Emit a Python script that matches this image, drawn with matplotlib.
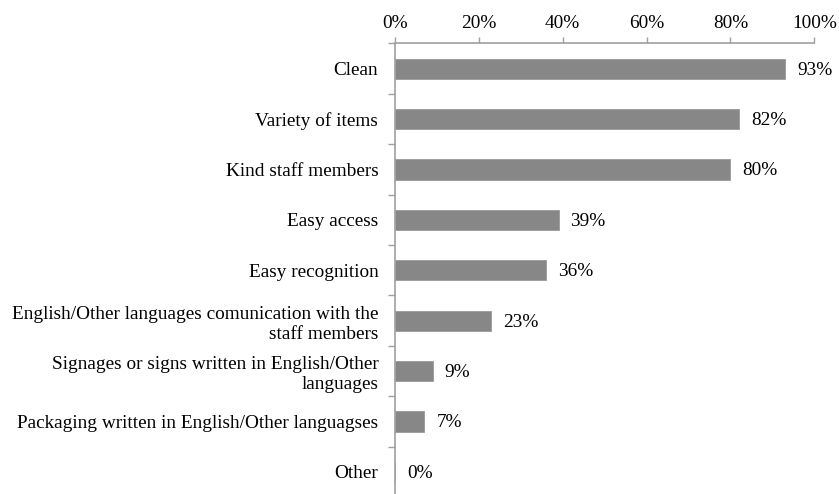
import numpy as np
import matplotlib.pyplot as plt
from matplotlib.ticker import FixedLocator, PercentFormatter

plt.rcParams['font.family'] = ['Liberation Serif', 'DejaVu Serif']

categories = [
    "Clean",
    "Variety of items",
    "Kind staff members",
    "Easy access",
    "Easy recognition",
    "English/Other languages comunication with the\nstaff members",
    "Signages or signs written in English/Other\nlanguages",
    "Packaging written in English/Other languagses",
    "Other",
]
shares = [93, 82, 80, 39, 36, 23, 9, 7, 0]

FS = 13.9
W, H = 839, 494
fig = plt.figure(figsize=(W / 100, H / 100), dpi=100)
# axes box in pixel terms: left edge 395, right 814, top 43.5, 9 rows of 50.4px
left, right, top = 395, 814.3, 43.5
bottom = top + 9 * 50.4
ax = fig.add_axes([left / W, 1 - bottom / H, (right - left) / W, (bottom - top) / H])

y = np.arange(len(categories))
ax.barh(y, shares, height=0.4, color='#878787', edgecolor='#9a9a9a', linewidth=0.6)

for yi, v in zip(y, shares):
    ax.annotate(f"{v}%", (v, yi), xytext=(8.6, -1), textcoords='offset points',
                va='center', ha='left', fontsize=FS)

ax.set_xlim(0, 100)
ax.set_ylim(len(categories) - 0.5, -0.5)
ax.xaxis.tick_top()
ax.set_xticks(np.arange(0, 101, 20))
ax.xaxis.set_major_formatter(PercentFormatter(decimals=0))
ax.tick_params(axis='x', direction='out', length=4.5, width=1, color='#a0a0a0',
               labelsize=FS, pad=4)

# group separators on the y axis, labels centred between them
ax.yaxis.set_major_locator(FixedLocator(np.arange(-0.5, len(categories), 1.0)))
ax.yaxis.set_major_formatter(plt.NullFormatter())
ax.yaxis.set_minor_locator(FixedLocator(y))
ax.set_yticklabels(categories, minor=True)
ax.tick_params(axis='y', which='major', direction='out', length=5, width=1, color='#a0a0a0')
ax.tick_params(axis='y', which='minor', length=0, labelsize=FS, pad=12)
for lbl in ax.get_yticklabels(minor=True):
    lbl.set_horizontalalignment('right')
    lbl.set_multialignment('right')
    lbl.set_linespacing(1.25)

for s in ['right', 'bottom']:
    ax.spines[s].set_visible(False)
for s in ['top', 'left']:
    ax.spines[s].set_color('#a0a0a0')
    ax.spines[s].set_linewidth(1.2)

fig.savefig('out.png', dpi=100)
